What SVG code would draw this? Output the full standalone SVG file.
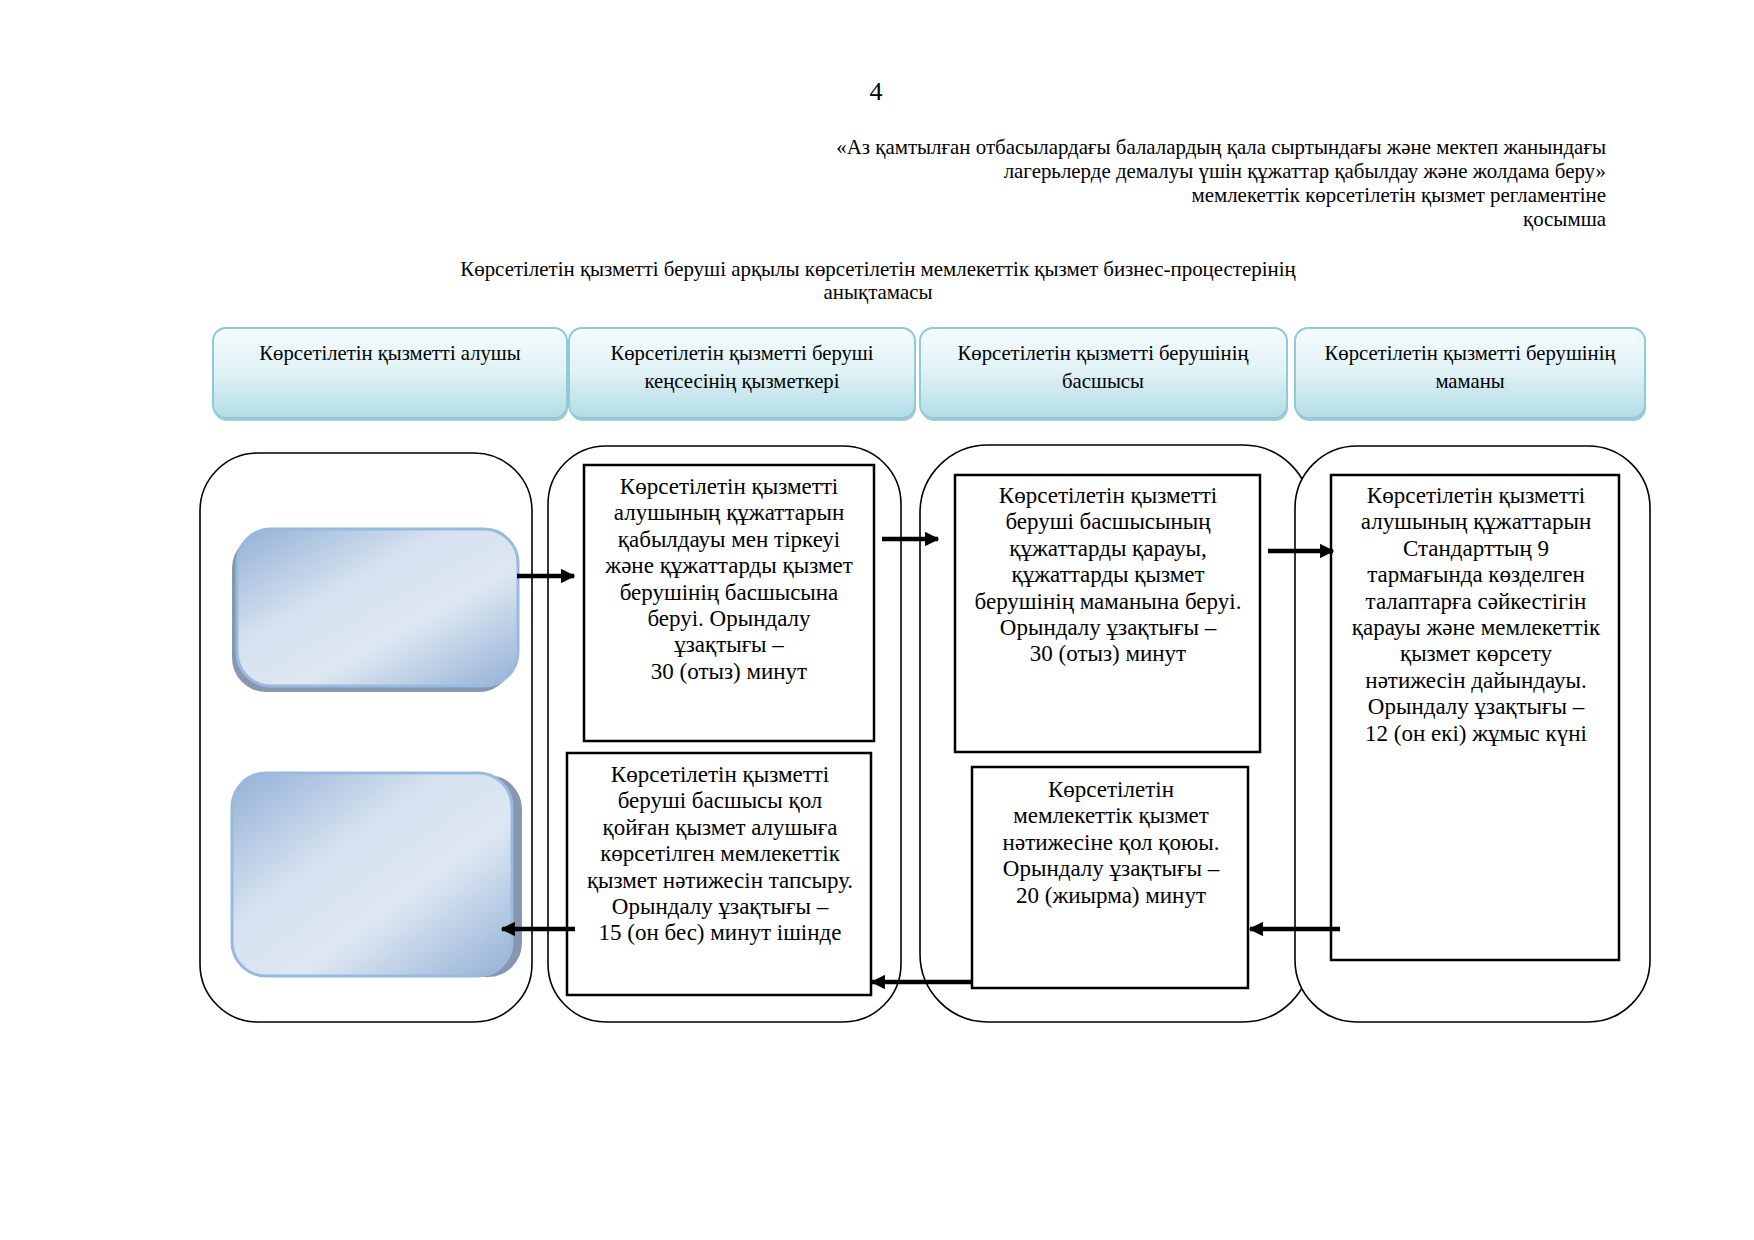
<svg xmlns="http://www.w3.org/2000/svg" width="1754" height="1240" viewBox="0 0 1754 1240">
<defs>
<linearGradient id="hdr" x1="0" y1="0" x2="0" y2="1">
<stop offset="0" stop-color="#f4fbfc"/>
<stop offset="0.45" stop-color="#e2f3f6"/>
<stop offset="1" stop-color="#b3dce6"/>
</linearGradient>
<linearGradient id="blue" x1="0" y1="0" x2="1" y2="1">
<stop offset="0" stop-color="#93b1d6"/>
<stop offset="0.38" stop-color="#d6e2f0"/>
<stop offset="0.62" stop-color="#dde7f2"/>
<stop offset="1" stop-color="#93b1d6"/>
</linearGradient>
<marker id="ah" viewBox="0 0 10 10" refX="9" refY="5" markerWidth="3.2" markerHeight="3.2" orient="auto" markerUnits="strokeWidth">
<path d="M0,0 L10,5 L0,10 z" fill="#000"/>
</marker>
</defs>
<style>
text{font-family:"Liberation Serif","DejaVu Serif",serif;fill:#000}
.t{font-size:23px;text-anchor:middle}
.h{font-size:20.7px;text-anchor:middle}
.r{font-size:20.9px;text-anchor:end}
.c{font-size:20.9px;text-anchor:middle}
.hb{fill:url(#hdr);stroke:#8ccbd7;stroke-width:2}
.hs{fill:#a9c9d0}
.lane{fill:#fff;stroke:#000;stroke-width:1.6}
.box{fill:#fff;stroke:#000;stroke-width:2.5}
.bl{fill:url(#blue);stroke:#9ab9df;stroke-width:3}
.sh{fill:#8797b0}
.arr{stroke:#000;stroke-width:4.5;fill:none;marker-end:url(#ah)}
</style>
<rect width="1754" height="1240" fill="#fff"/>

<text x="876" y="100" style="font-size:26px;text-anchor:middle">4</text>
<g id="caption">
<text class="r" x="1606" y="154">«Аз қамтылған отбасылардағы балалардың қала сыртындағы және мектеп жанындағы</text>
<text class="r" x="1606" y="178">лагерьлерде демалуы үшін құжаттар қабылдау және жолдама беру»</text>
<text class="r" x="1606" y="202">мемлекеттік көрсетілетін қызмет регламентіне</text>
<text class="r" x="1606" y="226">қосымша</text>
</g>
<g id="title">
<text class="c" x="878" y="276">Көрсетілетін қызметті беруші арқылы көрсетілетін мемлекеттік қызмет бизнес-процестерінің</text>
<text class="c" x="878" y="299">анықтамасы</text>
</g>

<g id="header1"><rect class="hs" x="214" y="331" width="354" height="90" rx="13"/><rect class="hb" x="213" y="328" width="354" height="90" rx="13"/>
<text class="h" x="390" y="360">Көрсетілетін қызметті алушы</text></g>
<g id="header2"><rect class="hs" x="570" y="331" width="346" height="90" rx="13"/><rect class="hb" x="569" y="328" width="346" height="90" rx="13"/>
<text class="h" x="742" y="360">Көрсетілетін қызметті беруші</text><text class="h" x="742" y="388">кеңсесінің қызметкері</text></g>
<g id="header3"><rect class="hs" x="921" y="331" width="367" height="90" rx="13"/><rect class="hb" x="920" y="328" width="367" height="90" rx="13"/>
<text class="h" x="1103" y="360">Көрсетілетін қызметті берушінің</text><text class="h" x="1103" y="388">басшысы</text></g>
<g id="header4"><rect class="hs" x="1296" y="331" width="350" height="90" rx="13"/><rect class="hb" x="1295" y="328" width="350" height="90" rx="13"/>
<text class="h" x="1470" y="360">Көрсетілетін қызметті берушінің</text><text class="h" x="1470" y="388">маманы</text></g>

<g id="lane1"><rect class="lane" x="200" y="453" width="332" height="569" rx="58"/></g>
<g id="lane2"><rect class="lane" x="548" y="446" width="353" height="576" rx="58"/></g>
<g id="lane3"><rect class="lane" x="920" y="445" width="391" height="577" rx="68"/></g>
<g id="lane4"><rect class="lane" x="1295" y="446" width="355" height="576" rx="62"/></g>

<g id="start"><rect class="sh" x="232" y="534" width="281" height="158" rx="34"/><rect class="bl" x="237" y="529" width="281" height="157" rx="34"/></g>
<g id="end"><rect class="sh" x="239" y="775" width="283" height="202" rx="34"/><rect class="bl" x="232" y="773" width="280" height="203" rx="34"/></g>

<g id="boxA"><rect class="box" x="584" y="465" width="290" height="276"/>
<text class="t" x="729"><tspan x="729" y="494">Көрсетілетін қызметті</tspan><tspan x="729" y="520.4">алушының құжаттарын</tspan><tspan x="729" y="546.8">қабылдауы мен тіркеуі</tspan><tspan x="729" y="573.2">және құжаттарды қызмет</tspan><tspan x="729" y="599.6">берушінің басшысына</tspan><tspan x="729" y="626">беруі. Орындалу</tspan><tspan x="729" y="652.4">ұзақтығы –</tspan><tspan x="729" y="678.8">30 (отыз) минут</tspan></text></g>
<g id="boxB"><rect class="box" x="955" y="475" width="305" height="277"/>
<text class="t" x="1108"><tspan x="1108" y="503">Көрсетілетін қызметті</tspan><tspan x="1108" y="529.4">беруші басшысының</tspan><tspan x="1108" y="555.8">құжаттарды қарауы,</tspan><tspan x="1108" y="582.2">құжаттарды қызмет</tspan><tspan x="1108" y="608.6">берушінің маманына беруі.</tspan><tspan x="1108" y="635">Орындалу ұзақтығы –</tspan><tspan x="1108" y="661.4">30 (отыз) минут</tspan></text></g>
<g id="boxC"><rect class="box" x="1331" y="475" width="288" height="485"/>
<text class="t" x="1476"><tspan x="1476" y="503">Көрсетілетін қызметті</tspan><tspan x="1476" y="529.4">алушының құжаттарын</tspan><tspan x="1476" y="555.8">Стандарттың 9</tspan><tspan x="1476" y="582.2">тармағында көзделген</tspan><tspan x="1476" y="608.6">талаптарға сәйкестігін</tspan><tspan x="1476" y="635">қарауы және мемлекеттік</tspan><tspan x="1476" y="661.4">қызмет көрсету</tspan><tspan x="1476" y="687.8">нәтижесін дайындауы.</tspan><tspan x="1476" y="714.2">Орындалу ұзақтығы –</tspan><tspan x="1476" y="740.6">12 (он екі) жұмыс күні</tspan></text></g>
<g id="boxD"><rect class="box" x="972" y="767" width="276" height="221"/>
<text class="t" x="1111"><tspan x="1111" y="797">Көрсетілетін</tspan><tspan x="1111" y="823.4">мемлекеттік қызмет</tspan><tspan x="1111" y="849.8">нәтижесіне қол қоюы.</tspan><tspan x="1111" y="876.2">Орындалу ұзақтығы –</tspan><tspan x="1111" y="902.6">20 (жиырма) минут</tspan></text></g>
<g id="boxE"><rect class="box" x="567" y="753" width="304" height="242"/>
<text class="t" x="720"><tspan x="720" y="782">Көрсетілетін қызметті</tspan><tspan x="720" y="808.4">беруші басшысы қол</tspan><tspan x="720" y="834.8">қойған қызмет алушыға</tspan><tspan x="720" y="861.2">көрсетілген мемлекеттік</tspan><tspan x="720" y="887.6">қызмет нәтижесін тапсыру.</tspan><tspan x="720" y="914">Орындалу ұзақтығы –</tspan><tspan x="720" y="940.4">15 (он бес) минут ішінде</tspan></text></g>

<g id="connectors">
<line class="arr" x1="517" y1="576" x2="574" y2="576"/>
<line class="arr" x1="882" y1="539" x2="938" y2="539"/>
<line class="arr" x1="1268" y1="551" x2="1333" y2="551"/>
<line class="arr" x1="1340" y1="929" x2="1250" y2="929"/>
<line class="arr" x1="972" y1="982" x2="872" y2="982"/>
<line class="arr" x1="575" y1="929" x2="502" y2="929"/>
</g>
</svg>
